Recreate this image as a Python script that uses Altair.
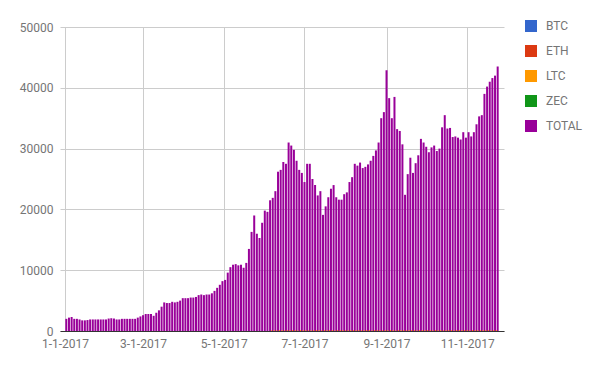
import altair as alt
import pandas as pd

# ---- data (one TOTAL bar every 2 days, starting 2017-01-02) ----
first_date = "2017-01-02"
total_values = [
    2000, 2200, 2300, 2000, 2000, 1900, 1750, 1750, 1800, 1900, 1900, 1900,
    1900, 1900, 1900, 1900, 2050, 2100, 2050, 1900, 1900, 2000, 2000, 2000, 2000, 2000, 2000, 2200, 2400, 2600, 2800,
    2800, 2800, 2500, 3000, 3400, 4000, 4700, 4600, 4600, 4800, 4700, 4800, 5000, 5400, 5400, 5400, 5500, 5500, 5600,
    5900, 6000, 5900, 6000, 6000, 6200, 6600, 7100, 7600,
    8200, 8400, 9600, 10500, 10900, 11000, 10800, 10900, 10400, 11200, 13500, 16300, 19000, 16000, 15300, 17800,
    19800, 19600, 21500, 21900, 23000, 26200, 26500, 27800, 27500, 31000, 30500, 29800, 28000, 26500,
    26000, 24500, 27500, 27500, 25000, 24000, 22300, 23000, 19100, 20500, 22000, 23400, 24000, 22000, 21600, 21600,
    22500, 22800, 24500, 25300, 27500, 27200, 27700, 26800, 27000, 27400, 28000, 28800, 29700, 31000,
    35000, 36000, 42900, 38300, 35000, 38500, 33200, 32900, 30700, 22400, 25800, 28500, 26000, 27600, 28900, 31600,
    31000, 30300, 29400, 30200, 30500, 29600, 30000, 33500, 35500, 33300, 33400, 31900, 32000, 31800,
    31500, 32700, 31800, 32700, 32000, 32700, 34000, 35300, 35500, 39000, 40200, 41000, 41600, 42000, 43500,
]
ltc_first_bar = 78
ltc_values = [
    120, 150, 140, 160, 150, 130, 150, 170, 160, 150, 140, 150, 160, 150, 140, 130, 150, 160, 150, 140,
    150, 160, 170, 150, 140, 150, 160, 150, 140, 150, 160, 170, 160, 150, 140, 150, 160, 150, 140, 150,
    160, 150, 140, 150, 160, 170, 150, 140, 150, 160, 150, 140, 150, 160, 150, 140, 150, 160, 170, 160,
    150, 140, 150, 160, 150, 140, 150, 160, 150, 140, 150, 160, 170, 160, 150, 140, 150, 160, 150, 140,
    150, 160, 150, 140, 150, 160,
]
series_names = ["BTC", "ETH", "LTC", "ZEC", "TOTAL"]
series_colors = ["#3366cc", "#dc3912", "#ff9900", "#109618", "#990099"]
y_ticks = [0, 10000, 20000, 30000, 40000, 50000]
x_tick_months = [1, 3, 5, 7, 9, 11]

dates = pd.date_range(first_date, periods=len(total_values), freq="2D")
df_total = pd.DataFrame({"date": dates, "value": total_values, "series": "TOTAL"})
ltc_dates = dates[ltc_first_bar:ltc_first_bar + len(ltc_values)] - pd.Timedelta(days=1)
df_ltc = pd.DataFrame({"date": ltc_dates, "value": ltc_values, "series": "LTC"})

FONT = "Roboto"
GRAY = "#757575"

x_enc = alt.X(
    "date:T",
    scale=alt.Scale(domain=[alt.DateTime(year=2017, month=1, date=1),
                            alt.DateTime(year=2017, month=11, date=25)]),
    axis=alt.Axis(
        values=[alt.DateTime(year=2017, month=m, date=1) for m in x_tick_months],
        format="%-m-%-d-%Y", title=None, grid=True, gridColor="#cccccc",
        ticks=False, domainColor="#333333", labelPadding=7,
        labelFont=FONT, labelFontSize=12, labelColor=GRAY,
    ),
)
y_enc = alt.Y(
    "value:Q",
    scale=alt.Scale(domain=[0, 50000]),
    axis=alt.Axis(
        values=y_ticks, format="d", title=None, grid=True, gridColor="#cccccc",
        ticks=False, domain=False, labelPadding=7,
        labelFont=FONT, labelFontSize=12, labelColor=GRAY,
    ),
)
color_enc = alt.Color(
    "series:N",
    scale=alt.Scale(domain=series_names, range=series_colors),
    legend=alt.Legend(
        title=None, orient="none", legendX=465, legendY=-7,
        symbolType="square", symbolSize=144, symbolStrokeWidth=0, symbolOpacity=1,
        labelFont=FONT, labelFontSize=12, labelColor=GRAY,
        rowPadding=13, labelOffset=9, padding=0,
    ),
)

bars_total = alt.Chart(df_total).mark_bar(width=2).encode(x=x_enc, y=y_enc, color=color_enc)
bars_ltc = alt.Chart(df_ltc).mark_bar(width=1).encode(x=x_enc, y=y_enc, color=color_enc)

chart = (
    alt.layer(bars_total, bars_ltc)
    .properties(
        width=444, height=304,
        autosize=alt.AutoSizeParams(type="none"),
        padding={"left": 52, "top": 19, "right": 80, "bottom": 28},
        background="white",
    )
    .configure_view(stroke=None)
)

chart.save("out.html", embed_options={"renderer": "svg", "actions": False})
